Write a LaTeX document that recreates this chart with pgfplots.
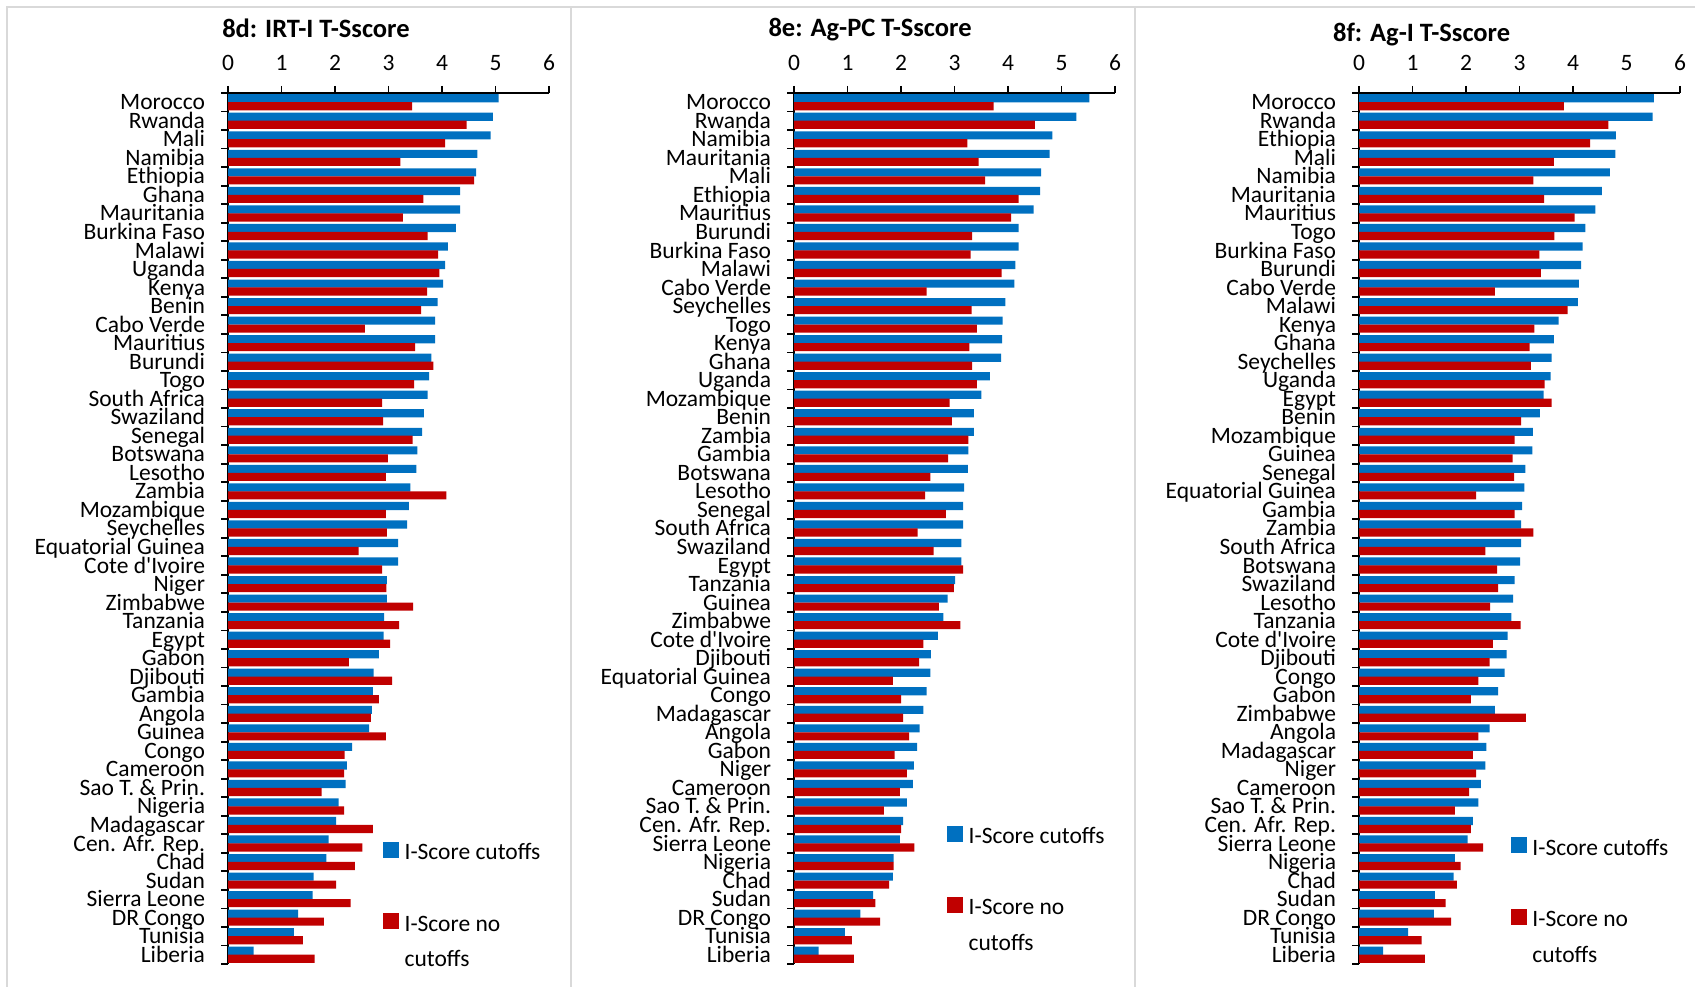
\documentclass[border=0pt]{standalone}
\usepackage{pgfplots}
\pgfplotsset{compat=1.18}
\usepackage{pgfplotstable}
\usepackage{fontspec}
\setmainfont{Carlito}[Ligatures=TeXOff]
\definecolor{bblue}{HTML}{0070C0}
\definecolor{rred}{HTML}{C00000}
\definecolor{frame}{HTML}{D9D9D9}
\newcommand{\lblfont}{\fontsize{11.75}{13}\selectfont}

% Panel 8d
\pgfplotstableread{
y b r
46 5.06 3.44
45 4.95 4.46
44 4.91 4.06
43 4.66 3.22
42 4.64 4.60
41 4.34 3.65
40 4.34 3.27
39 4.26 3.73
38 4.11 3.93
37 4.06 3.95
36 4.02 3.72
35 3.92 3.61
34 3.87 2.56
33 3.87 3.50
32 3.80 3.84
31 3.76 3.48
30 3.73 2.88
29 3.66 2.90
28 3.63 3.45
27 3.54 2.99
26 3.52 2.95
25 3.41 4.08
24 3.38 2.95
23 3.35 2.97
22 3.18 2.44
21 3.18 2.88
20 2.97 2.96
19 2.97 3.46
18 2.92 3.20
17 2.91 3.03
16 2.82 2.26
15 2.72 3.07
14 2.71 2.82
13 2.69 2.67
12 2.64 2.95
11 2.32 2.18
10 2.22 2.17
9 2.20 1.75
8 2.07 2.17
7 2.02 2.71
6 1.88 2.51
5 1.84 2.37
4 1.60 2.02
3 1.58 2.29
2 1.31 1.79
1 1.23 1.40
0 0.48 1.62
}\tA

% Panel 8e
\pgfplotstableread{
y b r
46 5.52 3.73
45 5.28 4.50
44 4.83 3.24
43 4.78 3.45
42 4.62 3.57
41 4.60 4.20
40 4.48 4.06
39 4.20 3.33
38 4.20 3.30
37 4.14 3.88
36 4.12 2.48
35 3.95 3.32
34 3.90 3.42
33 3.89 3.28
32 3.87 3.33
31 3.66 3.42
30 3.50 2.91
29 3.36 2.95
28 3.36 3.26
27 3.26 2.88
26 3.25 2.55
25 3.18 2.45
24 3.16 2.84
23 3.16 2.31
22 3.13 2.61
21 3.13 3.16
20 3.01 2.99
19 2.87 2.71
18 2.79 3.11
17 2.69 2.42
16 2.56 2.34
15 2.55 1.85
14 2.48 2.00
13 2.42 2.04
12 2.35 2.15
11 2.30 1.88
10 2.24 2.11
9 2.22 1.98
8 2.11 1.68
7 2.04 2.00
6 1.98 2.25
5 1.86 1.86
4 1.85 1.78
3 1.48 1.52
2 1.24 1.61
1 0.95 1.08
0 0.46 1.12
}\tB

% Panel 8f
\pgfplotstableread{
y b r
46 5.51 3.83
45 5.49 4.66
44 4.80 4.32
43 4.79 3.64
42 4.69 3.26
41 4.54 3.46
40 4.42 4.03
39 4.23 3.65
38 4.18 3.37
37 4.15 3.40
36 4.11 2.54
35 4.09 3.90
34 3.73 3.28
33 3.64 3.19
32 3.60 3.21
31 3.58 3.47
30 3.45 3.60
29 3.38 3.03
28 3.25 2.91
27 3.24 2.87
26 3.11 2.90
25 3.09 2.19
24 3.05 2.91
23 3.03 3.26
22 3.03 2.36
21 3.01 2.58
20 2.91 2.60
19 2.88 2.45
18 2.85 3.02
17 2.78 2.50
16 2.76 2.44
15 2.72 2.23
14 2.60 2.09
13 2.54 3.12
12 2.44 2.23
11 2.38 2.13
10 2.36 2.19
9 2.28 2.06
8 2.23 1.79
7 2.13 2.09
6 2.03 2.32
5 1.79 1.90
4 1.77 1.83
3 1.42 1.62
2 1.40 1.72
1 0.92 1.17
0 0.45 1.23
}\tC

\pgfplotsset{
  panel/.style={
    scale only axis, width=160.5pt, height=435.5pt,
    anchor=north west,
    xmin=0, xmax=6, ymin=-0.5, ymax=46.5,
    axis x line*=top, axis y line*=left,
    axis line style={black, line width=0.9pt},
    tick align=outside, major tick length=3.5pt,
    tick style={black, line width=0.9pt},
    xtick={0,1,2,3,4,5,6}, xticklabels={0,1,2,3,4,5,6},
    x tick label style={font=\lblfont, inner sep=0pt, anchor=south, yshift=7.4pt},
    ytick={-0.5,0.5,...,46.5}, yticklabels={},
    extra y ticks={0,1,...,46},
    extra y tick style={major tick length=0pt},
    y tick label style={font=\lblfont, inner sep=0pt, text height=7.5pt, text depth=0pt, anchor=east, xshift=-11.3pt},
    title style={font=\bfseries\fontsize{13.25}{15}\selectfont, anchor=center},
    legend cell align=left,
    legend style={draw=none, fill=none, inner sep=0pt, row sep=6.5pt,
      column sep=3pt, font=\fontsize{11.75}{14}\selectfont,
      nodes={inner sep=0pt}, anchor=north west},
  },
  bluebar/.style={xbar, fill=bblue, draw=none, bar width=0.44, bar shift=0.215, forget plot},
  redbar/.style={xbar, fill=rred, draw=none, bar width=0.44, bar shift=-0.215, forget plot},
  bluesq/.style={legend image code/.code={\fill[bblue] (0pt,-2.8pt) rectangle (7.5pt,4.7pt);}},
  redsq/.style={legend image code/.code={\fill[rred] (0pt,-2.8pt) rectangle (7.5pt,4.7pt);}},
}

\begin{document}
\begin{tikzpicture}
\path[use as bounding box] (0,0) rectangle (847.5pt,493pt);
\draw[frame, line width=1pt] (3.5pt,-5pt) -- (3.5pt,489.5pt) -- (852pt,489.5pt);
\draw[frame, line width=1pt] (285.5pt,-5pt) -- (285.5pt,489.5pt);
\draw[frame, line width=1pt] (567.5pt,-5pt) -- (567.5pt,489.5pt);

% ---------- 8d ----------
\begin{axis}[panel, at={(114pt,446.5pt)},
  title={8d: IRT-I T-Sscore}, title style={at={(0.274,1.061)}},
  extra y tick labels={Liberia, Tunisia, DR Congo, Sierra Leone, Sudan, Chad, Cen. Afr. Rep., Madagascar, Nigeria, Sao T. \& Prin., Cameroon, Congo, Guinea, Angola, Gambia, Djibouti, Gabon, Egypt, Tanzania, Zimbabwe, Niger, Cote d'Ivoire, Equatorial Guinea, Seychelles, Mozambique, Zambia, Lesotho, Botswana, Senegal, Swaziland, South Africa, Togo, Burundi, Mauritius, Cabo Verde, Benin, Kenya, Uganda, Malawi, Burkina Faso, Mauritania, Ghana, Ethiopia, Namibia, Mali, Rwanda, Morocco},
  legend style={at={(0.481,0.1424)}},
]
\addplot[bluebar] table[x=b, y=y]{\tA};
\addplot[redbar] table[x=r, y=y]{\tA};
\addlegendimage{bluesq}\addlegendentry{I-Score cutoffs\strut}
\addlegendimage{empty legend}\addlegendentry{\strut}
\addlegendimage{redsq}\addlegendentry{I-Score no\strut}
\addlegendimage{empty legend}\addlegendentry{cutoffs\strut}
\end{axis}

% ---------- 8e ----------
\begin{axis}[panel, at={(397pt,446.5pt)},
  title={8e: Ag-PC T-Sscore}, title style={at={(0.237,1.059)}},
  extra y tick labels={Liberia, Tunisia, DR Congo, Sudan, Chad, Nigeria, Sierra Leone, Cen. Afr. Rep., Sao T. \& Prin., Cameroon, Niger, Gabon, Angola, Madagascar, Congo, Equatorial Guinea, Djibouti, Cote d'Ivoire, Zimbabwe, Guinea, Tanzania, Egypt, Swaziland, South Africa, Senegal, Lesotho, Botswana, Gambia, Zambia, Benin, Mozambique, Uganda, Ghana, Kenya, Togo, Seychelles, Cabo Verde, Malawi, Burkina Faso, Burundi, Mauritius, Ethiopia, Mali, Mauritania, Namibia, Rwanda, Morocco},
  legend style={at={(0.475,0.161)}},
]
\addplot[bluebar] table[x=b, y=y]{\tB};
\addplot[redbar] table[x=r, y=y]{\tB};
\addlegendimage{bluesq}\addlegendentry{I-Score cutoffs\strut}
\addlegendimage{empty legend}\addlegendentry{\strut}
\addlegendimage{redsq}\addlegendentry{I-Score no\strut}
\addlegendimage{empty legend}\addlegendentry{cutoffs\strut}
\end{axis}

% ---------- 8f ----------
\begin{axis}[panel, at={(679.5pt,446.5pt)},
  title={8f: Ag-I T-Sscore}, title style={at={(0.195,1.053)}},
  extra y tick labels={Liberia, Tunisia, DR Congo, Sudan, Chad, Nigeria, Sierra Leone, Cen. Afr. Rep., Sao T. \& Prin., Cameroon, Niger, Madagascar, Angola, Zimbabwe, Gabon, Congo, Djibouti, Cote d'Ivoire, Tanzania, Lesotho, Swaziland, Botswana, South Africa, Zambia, Gambia, Equatorial Guinea, Senegal, Guinea, Mozambique, Benin, Egypt, Uganda, Seychelles, Ghana, Kenya, Malawi, Cabo Verde, Burundi, Burkina Faso, Togo, Mauritius, Mauritania, Namibia, Mali, Ethiopia, Rwanda, Morocco},
  legend style={at={(0.471,0.1475)}},
]
\addplot[bluebar] table[x=b, y=y]{\tC};
\addplot[redbar] table[x=r, y=y]{\tC};
\addlegendimage{bluesq}\addlegendentry{I-Score cutoffs\strut}
\addlegendimage{empty legend}\addlegendentry{\strut}
\addlegendimage{redsq}\addlegendentry{I-Score no\strut}
\addlegendimage{empty legend}\addlegendentry{cutoffs\strut}
\end{axis}
\end{tikzpicture}
\end{document}
